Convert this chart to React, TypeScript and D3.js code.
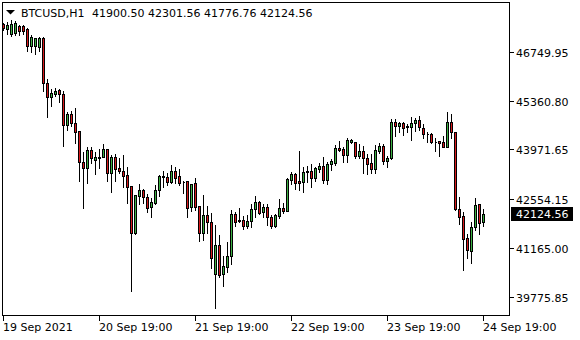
import React from "react";
import * as d3 from "d3";

const W = 580;
const H = 340;

// OHLC values, one entry per hourly bar (BTCUSD H1)
const opens = [
  47562, 47406, 47263, 47283, 47500, 47500, 47406, 46930, 46930, 46901,
  47140, 45858, 45459, 45553, 45667, 45553, 44670, 44983, 44735, 44499,
  43606, 43452, 43957, 43680, 43743, 43766, 43977, 43293, 43749, 43436,
  43367, 43236, 42931, 41583, 42654, 42817, 42609, 42341, 42455, 42808,
  43179, 43179, 43053, 43358, 43216, 43045, 43074, 42324, 43008, 42361,
  41600, 42105, 41896, 40415, 41249, 40415, 40614, 40936, 42133, 41953,
  41962, 41800, 41942, 42267, 42466, 42199, 42324, 42056, 41800, 42085,
  42296, 42227, 43102, 43273, 43074, 43053, 43321, 43358, 43168, 43416,
  43501, 43102, 43549, 43595, 44005, 43977, 43815, 44176, 44194, 43786,
  43928, 43720, 43578, 43407, 43937, 44071, 43652, 43720, 44755, 44650,
  44727, 44650, 44604, 44718, 44812, 44575, 44413, 44413, 44194, 44214,
  44194, 44034, 44746, 44461, 42276, 42076, 41440, 41087, 41771, 42418,
  41900.5,
];
const highs = [
  47605, 47642, 47690, 47662, 47548, 47548, 47454, 47263, 47186, 47206,
  47206, 46000, 45715, 45744, 45715, 45667, 45069, 45097, 45191, 44527,
  43928, 44071, 44071, 43928, 44005, 44148, 44023, 43835, 43863, 43766,
  43835, 43501, 42960, 42703, 43008, 42883, 42723, 42626, 42988, 43273,
  43387, 43339, 43558, 43501, 43453, 43102, 43102, 43025, 43196, 42390,
  42703, 42390, 42199, 41848, 41555, 40964, 41364, 42267, 42227, 42324,
  42105, 42133, 42438, 42674, 42532, 42438, 42438, 42133, 42153, 42580,
  42484, 43196, 43367, 43339, 43957, 43510, 43530, 43595, 43510, 43624,
  43786, 43652, 43720, 44128, 44242, 44071, 44336, 44308, 44194, 44165,
  44100, 43863, 43863, 44128, 44194, 44165, 43815, 44860, 44860, 44792,
  44792, 44718, 44926, 44889, 44955, 44718, 44507, 44479, 44336, 44214,
  44385, 45069, 45020, 44470, 42646, 42218, 41583, 41934, 42609, 42455,
  42301.56,
];
const lows = [
  47377, 47263, 47215, 47243, 47243, 47263, 46787, 46741, 46693, 46787,
  45647, 44906, 45211, 45496, 45334, 44080, 44527, 44641, 44148, 43082,
  42313, 43025, 43595, 43273, 43452, 43758, 43082, 42769, 43082, 43310,
  42911, 42438, 39947, 41563, 42410, 42455, 42199, 42056, 42418, 42654,
  42894, 42960, 43025, 43025, 42960, 42740, 42056, 42219, 42247, 41372,
  41392, 41583, 40603, 39446, 40346, 40089, 40489, 40708, 41800, 41914,
  41706, 41743, 41771, 42039, 42133, 42056, 41820, 41743, 41771, 42011,
  42153, 42227, 42988, 42837, 42817, 42769, 43053, 42911, 43074, 43339,
  43025, 42988, 43387, 43530, 43937, 43624, 43624, 44148, 43720, 43720,
  43310, 43273, 43310, 43310, 43863, 43558, 43481, 43701, 44365, 44462,
  44385, 44462, 44242, 44507, 44527, 44308, 44194, 44148, 43937, 43786,
  44034, 44034, 44308, 42247, 41848, 40537, 40870, 40745, 41677, 41555,
  41776.76,
];
const closes = [
  47434, 47520, 47548, 47568, 47357, 47340, 46930, 47169, 47149, 47140,
  45858, 45459, 45573, 45639, 45545, 44670, 44983, 44735, 44479, 43606,
  43435, 43957, 43720, 43757, 43749, 43977, 43293, 43749, 43407, 43359,
  43225, 42911, 41583, 42674, 42817, 42609, 42313, 42466, 42817, 43216,
  43216, 43053, 43358, 43150, 43025, 43036, 42313, 42988, 42341, 41600,
  42105, 41914, 40870, 41249, 40395, 40651, 40936, 42133, 41914, 41934,
  41800, 41934, 42267, 42466, 42170, 42324, 42056, 41800, 42105, 42296,
  42227, 43131, 43273, 43025, 43025, 43321, 43358, 43168, 43436, 43501,
  43102, 43558, 43644, 44005, 43957, 43815, 44242, 44242, 43786, 43928,
  43715, 43558, 43407, 43957, 44071, 43652, 43720, 44755, 44650, 44727,
  44593, 44604, 44727, 44812, 44604, 44404, 44407, 44194, 44188, 44165,
  44034, 44746, 44461, 42267, 42056, 41421, 41107, 41754, 42390, 41885,
  42124.56,
];

const yTickValues = [46749.95, 45360.8, 43971.65, 42554.15, 41165.0, 39775.85];
const xTickIndex = [0, 24, 48, 72, 96, 120];
const xTickLabels = [
  "19 Sep 2021",
  "20 Sep 19:00",
  "21 Sep 19:00",
  "22 Sep 19:00",
  "23 Sep 19:00",
  "24 Sep 19:00",
];
const symbolLabel = "BTCUSD,H1";
const lastBar = { o: 41900.5, h: 42301.56, l: 41776.76, c: 42124.56 };

const FONT = "'DejaVu Sans', Tahoma, sans-serif";
const UP = "#3cb043";
const DOWN = "#d7191c";

export default function App() {
  const left = 2.5;
  const right = 509.5;
  const top = 2.5;
  const bottom = 315.5;

  const x = d3.scaleLinear().domain([0, 120]).range([3.5, 483.5]);
  const y = d3.scaleLinear().domain([39226, 48175]).range([316, 2]);
  const fmt = d3.format(".2f");
  const py = (v: number) => Math.round(y(v)) + 0.5;

  const candles = opens.map((o, i) => {
    const c = closes[i];
    const hi = highs[i];
    const lo = lows[i];
    const cx = x(i);
    const up = c >= o;
    const t = py(Math.max(o, c));
    const b = py(Math.min(o, c));
    return (
      <g key={i}>
        <line x1={cx} x2={cx} y1={py(hi)} y2={py(lo) + 0.5} stroke="#000" strokeWidth={1} />
        <path
          d={`M${cx - 1},${t}H${cx + 1}V${b}H${cx - 1}Z`}
          fill={up ? UP : DOWN}
          stroke="#000"
          strokeWidth={1}
        />
      </g>
    );
  });

  const lastY = y(lastBar.c);

  return (
    <svg
      width={W}
      height={H}
      style={{ position: "absolute", left: 0, top: 0, background: "#fff" }}
      shapeRendering="crispEdges"
    >
      <rect x={0} y={0} width={W} height={H} fill="#fff" />
      {candles}
      <rect x={left} y={top} width={right - left} height={bottom - top} fill="none" stroke="#000" strokeWidth={1} />

      {/* header */}
      <path d="M6,10H15L10.5,14.5Z" fill="#000" shapeRendering="auto" />
      <text x={21} y={16.5} fontFamily={FONT} fontSize={11} fill="#000">
        {symbolLabel}
      </text>
      <text x={92} y={16.5} fontFamily={FONT} fontSize={11} fill="#000">
        {[lastBar.o, lastBar.h, lastBar.l, lastBar.c].map(fmt).join(" ")}
      </text>

      {/* right price axis */}
      {yTickValues.map((v) => {
        const ty = Math.round(y(v)) + 0.5;
        return (
          <g key={v}>
            <line x1={right} x2={right + 4} y1={ty} y2={ty} stroke="#000" />
            <text x={516} y={ty + 4} fontFamily={FONT} fontSize={11} fill="#000">
              {fmt(v)}
            </text>
          </g>
        );
      })}

      {/* current price label */}
      <rect x={511} y={Math.round(lastY) - 7} width={62} height={14} fill="#000" />
      <text x={516} y={Math.round(lastY) + 4} fontFamily={FONT} fontSize={11} fill="#fff">
        {fmt(lastBar.c)}
      </text>

      {/* time axis */}
      {xTickIndex.map((idx, k) => {
        const tx = x(idx);
        return (
          <g key={idx}>
            <line x1={tx} x2={tx} y1={bottom} y2={bottom + 5} stroke="#000" />
            <text x={tx - 0.5} y={331} fontFamily={FONT} fontSize={11} fill="#000">
              {xTickLabels[k]}
            </text>
          </g>
        );
      })}
    </svg>
  );
}
